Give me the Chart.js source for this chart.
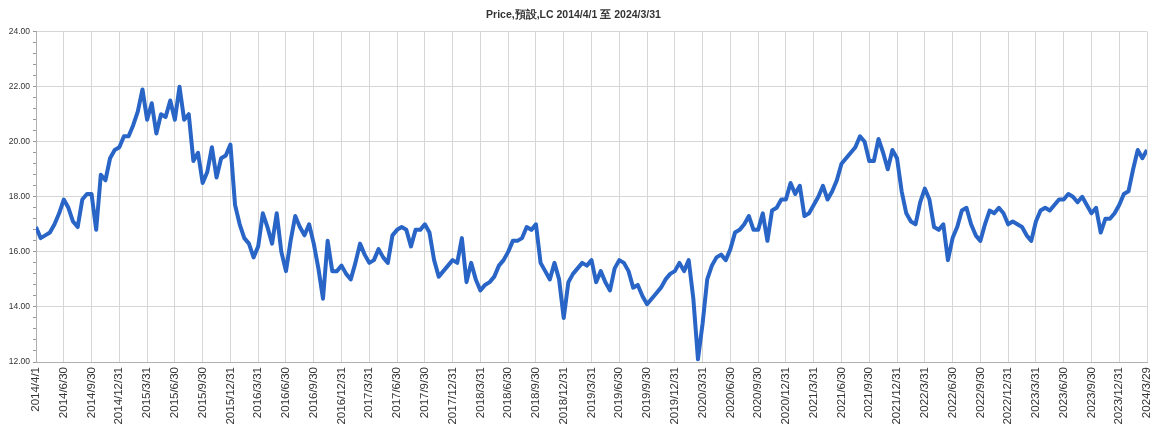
<!DOCTYPE html>
<html>
<head>
<meta charset="utf-8">
<script src="https://cdn.jsdelivr.net/npm/chart.js@4/dist/chart.umd.min.js"></script>
<style>
  body { margin: 0; background: #fff; }
  #priceChart { display: block; }
</style>
</head>
<body>
<canvas id="priceChart" width="1152" height="425"></canvas>
<script>
// quarter-end tick labels (one per x unit)
const tickLabels = [
    "2014/4/1", "2014/6/30", "2014/9/30", "2014/12/31",
    "2015/3/31", "2015/6/30", "2015/9/30", "2015/12/31",
    "2016/3/31", "2016/6/30", "2016/9/30", "2016/12/31",
    "2017/3/31", "2017/6/30", "2017/9/30", "2017/12/31",
    "2018/3/31", "2018/6/30", "2018/9/30", "2018/12/31",
    "2019/3/31", "2019/6/30", "2019/9/30", "2019/12/31",
    "2020/3/31", "2020/6/30", "2020/9/30", "2020/12/31",
    "2021/3/31", "2021/6/30", "2021/9/30", "2021/12/31",
    "2022/3/31", "2022/6/30", "2022/9/30", "2022/12/31",
    "2023/3/31", "2023/6/30", "2023/9/30", "2023/12/31",
    "2024/3/29"
];

// price readings, 6 per quarter
const price2014 = [
    16.9, 16.5, 16.6, 16.7, 17.0, 17.4,
    17.9, 17.6, 17.1, 16.9, 17.9, 18.1,
    18.1, 16.8, 18.8, 18.6, 19.4, 19.7
];
const price2015 = [
    19.8, 20.2, 20.2, 20.6, 21.1, 21.9,
    20.8, 21.4, 20.3, 21.0, 20.9, 21.5,
    20.8, 22.0, 20.8, 21.0, 19.3, 19.6,
    18.5, 18.9, 19.8, 18.7, 19.4, 19.5
];
const price2016 = [
    19.9, 17.7, 17.0, 16.5, 16.3, 15.8,
    16.2, 17.4, 16.9, 16.3, 17.4, 16.0,
    15.3, 16.4, 17.3, 16.9, 16.6, 17.0,
    16.3, 15.4, 14.3, 16.4, 15.3, 15.3
];
const price2017 = [
    15.5, 15.2, 15.0, 15.6, 16.3, 15.9,
    15.6, 15.7, 16.1, 15.8, 15.6, 16.6,
    16.8, 16.9, 16.8, 16.2, 16.8, 16.8,
    17.0, 16.7, 15.7, 15.1, 15.3, 15.5
];
const price2018 = [
    15.7, 15.6, 16.5, 14.9, 15.6, 15.0,
    14.6, 14.8, 14.9, 15.1, 15.5, 15.7,
    16.0, 16.4, 16.4, 16.5, 16.9, 16.8,
    17.0, 15.6, 15.3, 15.0, 15.6, 15.0
];
const price2019 = [
    13.6, 14.9, 15.2, 15.4, 15.6, 15.5,
    15.7, 14.9, 15.3, 14.9, 14.6, 15.4,
    15.7, 15.6, 15.3, 14.7, 14.8, 14.4,
    14.1, 14.3, 14.5, 14.7, 15.0, 15.2
];
const price2020 = [
    15.3, 15.6, 15.3, 15.7, 14.3, 12.1,
    13.4, 15.0, 15.5, 15.8, 15.9, 15.7,
    16.1, 16.7, 16.8, 17.0, 17.3, 16.8,
    16.8, 17.4, 16.4, 17.5, 17.6, 17.9
];
const price2021 = [
    17.9, 18.5, 18.1, 18.4, 17.3, 17.4,
    17.7, 18.0, 18.4, 17.9, 18.2, 18.6,
    19.2, 19.4, 19.6, 19.8, 20.2, 20.0,
    19.3, 19.3, 20.1, 19.6, 19.0, 19.7
];
const price2022 = [
    19.4, 18.2, 17.4, 17.1, 17.0, 17.8,
    18.3, 17.9, 16.9, 16.8, 17.0, 15.7,
    16.5, 16.9, 17.5, 17.6, 17.0, 16.6,
    16.4, 17.0, 17.5, 17.4, 17.6, 17.4
];
const price2023 = [
    17.0, 17.1, 17.0, 16.9, 16.6, 16.4,
    17.1, 17.5, 17.6, 17.5, 17.7, 17.9,
    17.9, 18.1, 18.0, 17.8, 18.0, 17.7,
    17.4, 17.6, 16.7, 17.2, 17.2, 17.4
];
const price2024 = [
    17.7, 18.1, 18.2, 19.0, 19.7, 19.4,
    19.7
];

const perQuarter = 6;

const allPrices = [].concat(price2014, price2015, price2016, price2017, price2018,
    price2019, price2020, price2021, price2022, price2023, price2024);
const points = allPrices.map((v, i) => ({ x: i / perQuarter, y: v }));

const gridColor = "#d6d6d6";
const textColor = "#333";

const ctx = document.getElementById("priceChart").getContext("2d");
new Chart(ctx, {
    type: "line",
    data: {
        datasets: [{
            data: points,
            borderColor: "#2865c6",
            borderWidth: 4,
            borderJoinStyle: "round",
            pointRadius: 0,
            tension: 0,
            fill: false
        }]
    },
    options: {
        responsive: false,
        animation: false,
        layout: { padding: { left: 0, right: 5, top: 0, bottom: 0 } },
        plugins: {
            legend: { display: false },
            tooltip: { enabled: false },
            title: {
                display: true,
                text: "Price,預設,LC 2014/4/1 至 2024/3/31",
                color: "#333",
                font: { family: "'Liberation Sans', Arial, sans-serif", size: 10.5, weight: "bold" },
                padding: { top: 9, bottom: 10 }
            }
        },
        scales: {
            x: {
                type: "linear",
                min: 0,
                max: 40,
                grid: { color: gridColor, drawTicks: false },
                border: { color: "#b0b0b0" },
                ticks: {
                    stepSize: 1,
                    autoSkip: false,
                    minRotation: 90,
                    maxRotation: 90,
                    padding: 5,
                    color: textColor,
                    font: { family: "'Liberation Sans', Arial, sans-serif", size: 11.5 },
                    callback: v => tickLabels[v] ?? ""
                },
                afterFit: scale => {
                    scale.height = 63;
                    scale.paddingLeft = 0;
                    scale.paddingRight = 0;
                }
            },
            y: {
                position: "left",
                weight: 1,
                min: 12,
                max: 24,
                grid: { color: gridColor, drawTicks: false },
                border: { display: false },
                ticks: {
                    stepSize: 2,
                    padding: 3,
                    color: textColor,
                    font: { family: "'Liberation Sans', Arial, sans-serif", size: 8.5 },
                    callback: v => v.toFixed(2)
                },
                afterFit: scale => {
                    scale.width = 33;
                    scale.paddingTop = 0;
                    scale.paddingBottom = 0;
                }
            },
            yMinor: {
                position: "left",
                weight: 0,
                min: 12,
                max: 24,
                grid: { drawOnChartArea: false, color: "#999", tickLength: 3 },
                border: { color: "#b0b0b0" },
                ticks: { stepSize: 0.4, display: false },
                afterFit: scale => {
                    scale.width = 3;
                }
            }
        }
    }
});
</script>
</body>
</html>
